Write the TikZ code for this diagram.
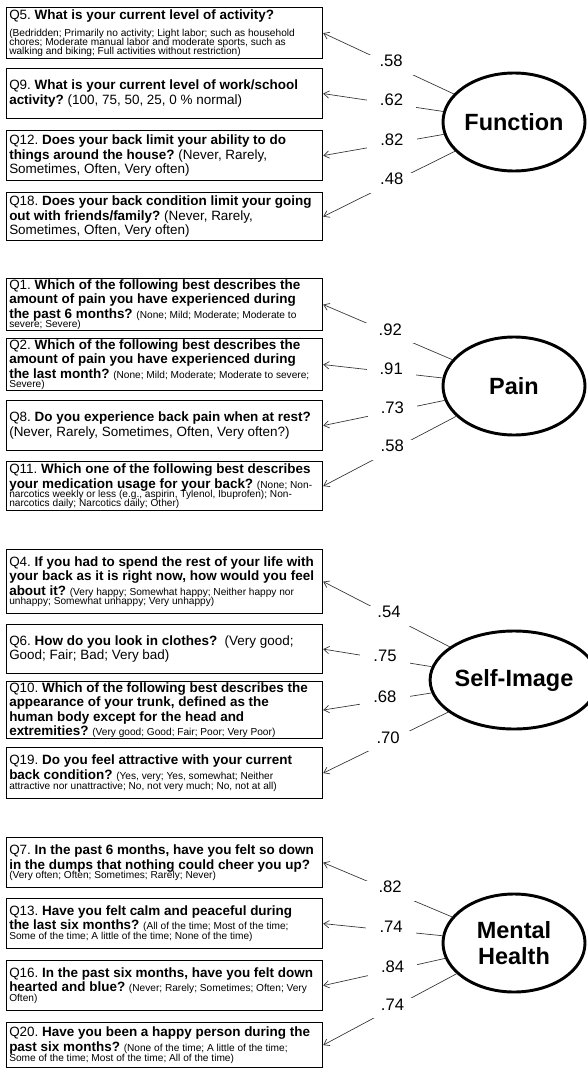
\documentclass[tikz,border=0pt]{standalone}
\usepackage{fontspec}
\setmainfont{Liberation Sans}
\usetikzlibrary{arrows.meta,shapes.geometric}
\frenchspacing
\newcommand{\qfont}{\fontsize{10.1pt}{10.9pt}\selectfont}
\newcommand{\optfont}{\fontsize{7.6pt}{6.25pt}\selectfont}
\newcommand{\loadfont}{\fontsize{12.5pt}{14pt}\selectfont}
\newcommand{\factorfont}{\bfseries\fontsize{17.6pt}{20pt}\selectfont}
\tikzset{
  qbox/.style={draw, line width=0.9pt, anchor=north west, text width=233pt,
               align=left, inner xsep=2pt, inner ysep=0.5pt, minimum height=37.5pt,
               font=\qfont,
               execute at begin node={\lineskiplimit=-8pt\spaceskip=0pt\xspaceskip=0pt}},
  factor/.style={ellipse, draw, line width=2.2pt, minimum width=106.5pt,
                 minimum height=73.5pt, inner sep=0pt, align=center, font=\factorfont},
  loadlbl/.style={fill=white, font=\loadfont, inner sep=0pt, minimum width=37pt,
                  text height=9pt, text depth=6pt},
  arr/.style={-{Straight Barb[length=4pt,width=5.5pt]}, line width=0.5pt, draw=black!80},
}

\begin{document}
\begin{tikzpicture}[x=0.75pt, y=-0.75pt]
  \useasboundingbox (0,0) rectangle (587,1070);

  % Function
  \node[qbox, minimum height=38.25pt] (q5) at (6,7) {Q5. \textbf{What is your current level of activity?}\\[7pt]
    \optfont (Bedridden; Primarily no activity; Light labor; such as household\\[0.5pt]
    chores; Moderate manual labor and moderate sports, such as\\[0.5pt]
    walking and biking; Full activities without restriction)\par};
  \node[qbox] (q9) at (6,68) {Q9. \textbf{What is your current level of work/school}\\
    \textbf{activity?} (100, 75, 50, 25, 0 \% normal)};
  \node[qbox] (q12) at (6,130) {Q12. \textbf{Does your back limit your ability to do}\\
    \textbf{things around the house?} (Never, Rarely,\\
    Sometimes, Often, Very often)};
  \node[qbox, minimum height=36pt] (q18) at (6,192) {Q18. \textbf{Does your back condition limit your going}\\
    \textbf{out with friends/family?} (Never, Rarely,\\
    Sometimes, Often, Very often)};
  \node[factor] (func) at (514,122) {Function};

  % Pain
  \node[qbox] (q1) at (6,278) {Q1. \textbf{Which of the following best describes the}\\
    \textbf{amount of pain you have experienced during}\\
    \textbf{the past 6 months?} {\optfont (None; Mild; Moderate; Moderate to}\\[1pt]
    \optfont severe; Severe)\par};
  \node[qbox] (q2) at (6,338) {Q2. \textbf{Which of the following best describes the}\\
    \textbf{amount of pain you have experienced during}\\
    \textbf{the last month?} {\optfont (None; Mild; Moderate; Moderate to severe;}\\[1pt]
    \optfont Severe)\par};
  \node[qbox] (q8) at (6,400) {Q8. \textbf{Do you experience back pain when at rest?}\\
    (Never, Rarely, Sometimes, Often, Very often?)};
  \node[qbox, minimum height=36.75pt] (q11) at (6,461) {Q11. \textbf{Which one of the following best describes}\\
    \textbf{your medication usage for your back?} {\optfont (None; Non-}\\[1pt]
    \optfont narcotics weekly or less (e.g., aspirin, Tylenol, Ibuprofen); Non-\\
    narcotics daily; Narcotics daily; Other)\par};
  \node[factor] (pain) at (514,386) {Pain};

  % Self-Image
  \node[qbox, minimum height=48pt] (q4) at (6,549) {Q4. \textbf{If you had to spend the rest of your life with}\\
    \textbf{your back as it is right now, how would you feel}\\
    \textbf{about it?} {\optfont (Very happy; Somewhat happy; Neither happy nor}\\[1pt]
    \optfont unhappy; Somewhat unhappy; Very unhappy)\par};
  \node[qbox, minimum height=36.75pt] (q6) at (6,624) {Q6. \textbf{How do you look in clothes?}\ \ (Very good;\\
    Good; Fair; Bad; Very bad)};
  \node[qbox, minimum height=42pt] (q10) at (6,681) {Q10. \textbf{Which of the following best describes the}\\
    \textbf{appearance of your trunk, defined as the}\\
    \textbf{human body except for the head and}\\
    \textbf{extremities?} {\optfont (Very good; Good; Fair; Poor; Very Poor)}};
  \node[qbox, minimum height=38.25pt] (q19) at (6,747) {Q19. \textbf{Do you feel attractive with your current}\\
    \textbf{back condition?}\ {\optfont (Yes, very; Yes, somewhat; Neither}\\[1pt]
    \optfont attractive nor unattractive; No, not very much; No, not at all)\par};
  \node[factor] (self) at (514,680) {Self-Image};

  % Mental Health
  \node[qbox] (q7) at (6,837) {Q7. \textbf{In the past 6 months, have you felt so down}\\
    \textbf{in the dumps that nothing could cheer you up?}\\[0.5pt]
    \optfont (Very often; Often; Sometimes; Rarely; Never)\par};
  \node[qbox] (q13) at (6,898) {Q13. \textbf{Have you felt calm and peaceful during}\\
    \textbf{the last six months?} {\optfont (All of the time; Most of the time;}\\[1pt]
    \optfont Some of the time; A little of the time; None of the time)\par};
  \node[qbox] (q16) at (6,960) {Q16. \textbf{In the past six months, have you felt down}\\
    \textbf{hearted and blue?} {\optfont (Never; Rarely; Sometimes; Often; Very}\\[1pt]
    \optfont Often)\par};
  \node[qbox, minimum height=33.75pt] (q20) at (6,1022) {Q20. \textbf{Have you been a happy person during the}\\
    \textbf{past six months?} {\optfont (None of the time; A little of the time;}\\[1pt]
    \optfont Some of the time; Most of the time; All of the time)\par};
  \node[factor] (mental) at (514,943) {Mental\\Health};

  % loadings
  \draw[arr] (func) -- node[loadlbl, pos=.48] (w5)  {.58} (q5.east);
  \draw[arr] (func) -- node[loadlbl, pos=.43] (w9)  {.62} (q9.east);
  \draw[arr] (func) -- node[loadlbl, pos=.43] (w12) {.82} (q12.east);
  \draw[arr] (func) -- node[loadlbl, pos=.48] (w18) {.48} (q18.east);

  \draw[arr] (pain) -- node[loadlbl, pos=.48] (w1)  {.92} (q1.east);
  \draw[arr] (pain) -- node[loadlbl, pos=.43] (w2)  {.91} (q2.east);
  \draw[arr] (pain) -- node[loadlbl, pos=.43] (w8)  {.73} (q8.east);
  \draw[arr] (pain) -- node[loadlbl, pos=.48] (w11) {.58} (q11.east);

  \draw[arr] (self) -- node[loadlbl, pos=.48] (w4)  {.54} (q4.east);
  \draw[arr] (self) -- node[loadlbl, pos=.43] (w6)  {.75} (q6.east);
  \draw[arr] (self) -- node[loadlbl, pos=.43] (w10) {.68} (q10.east);
  \draw[arr] (self) -- node[loadlbl, pos=.48] (w19) {.70} (q19.east);

  \draw[arr] (mental) -- node[loadlbl, pos=.48] (w7)  {.82} (q7.east);
  \draw[arr] (mental) -- node[loadlbl, pos=.43] (w13) {.74} (q13.east);
  \draw[arr] (mental) -- node[loadlbl, pos=.43] (w16) {.84} (q16.east);
  \draw[arr] (mental) -- node[loadlbl, pos=.48] (w20) {.74} (q20.east);
\end{tikzpicture}
\end{document}
